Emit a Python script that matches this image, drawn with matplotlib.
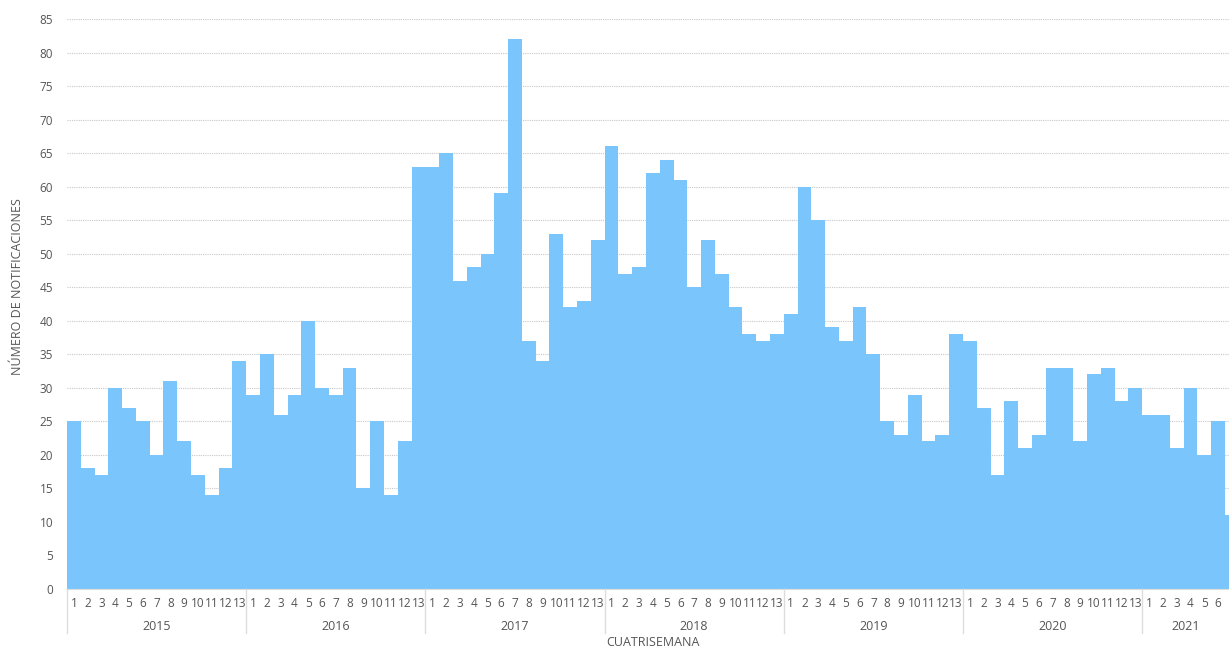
import matplotlib.pyplot as plt
from matplotlib.transforms import blended_transform_factory
import numpy as np

years = ["2015", "2016", "2017", "2018", "2019", "2020", "2021"]
n_2015 = [25, 18, 17, 30, 27, 25, 20, 31, 22, 17, 14, 18, 34]
n_2016 = [29, 35, 26, 29, 40, 30, 29, 33, 15, 25, 14, 22, 63]
n_2017 = [63, 65, 46, 48, 50, 59, 82, 37, 34, 53, 42, 43, 52]
n_2018 = [66, 47, 48, 62, 64, 61, 45, 52, 47, 42, 38, 37, 38]
n_2019 = [41, 60, 55, 39, 37, 42, 35, 25, 23, 29, 22, 23, 38]
n_2020 = [37, 27, 17, 28, 21, 23, 33, 33, 22, 32, 33, 28, 30]
n_2021 = [26, 26, 21, 30, 20, 25, 11]
series = [n_2015, n_2016, n_2017, n_2018, n_2019, n_2020, n_2021]

plt.rcParams['font.family'] = ['Open Sans', 'DejaVu Sans']
text_col = '#555555'
bar_col = '#7AC5FB'

values = [v for s in series for v in s]
periods = [str(i + 1) for s in series for i in range(len(s))]
x = np.arange(len(values))

fig = plt.figure(figsize=(12.29, 6.48), dpi=100)
ax = fig.add_axes([67 / 1229, 59 / 648, 1 - 67 / 1229, 570 / 648])

ax.bar(x, values, width=1.0, color=bar_col, linewidth=0, zorder=2)

x_right = len(values) - 1 - 0.2
ax.set_xlim(-0.5, x_right)
ax.set_ylim(0, 85)
ax.set_yticks(range(0, 90, 5))
ax.yaxis.grid(True, linestyle=(0, (1, 1)), color='#c8c8c8', linewidth=0.8, zorder=0)
ax.set_axisbelow(True)

for sp in ['top', 'right', 'left']:
    ax.spines[sp].set_visible(False)
ax.spines['bottom'].set_color('#dddddd')

# the last period is cut by the right edge, so leave its number off
ax.set_xticks(x[:-1])
ax.set_xticklabels(periods[:-1])
ax.tick_params(axis='x', length=0, pad=6, labelsize=8.5, labelcolor=text_col)
ax.tick_params(axis='y', length=0, pad=10, labelsize=8.5, labelcolor=text_col)

trans = blended_transform_factory(ax.transData, ax.transAxes)
start = -0.5
for yr, s in zip(years, series):
    end = start + len(s)
    ax.plot([start, start], [0, -44 / 570], transform=trans, color='#dddddd',
            linewidth=1, clip_on=False)
    center = (start + min(end, x_right)) / 2
    ax.text(center, -38 / 570, yr, transform=trans, ha='center', va='center',
            fontsize=9, color=text_col)
    start = end

fig.text(653 / 1229, 1 - 643 / 648, "CUATRISEMANA", ha='center', va='center',
         fontsize=9, color=text_col)
fig.text(18 / 1229, 1 - 287 / 648, "NÚMERO DE NOTIFICACIONES", ha='center',
         va='center', rotation=90, fontsize=9, color=text_col)

fig.savefig("out.png", dpi=100)
